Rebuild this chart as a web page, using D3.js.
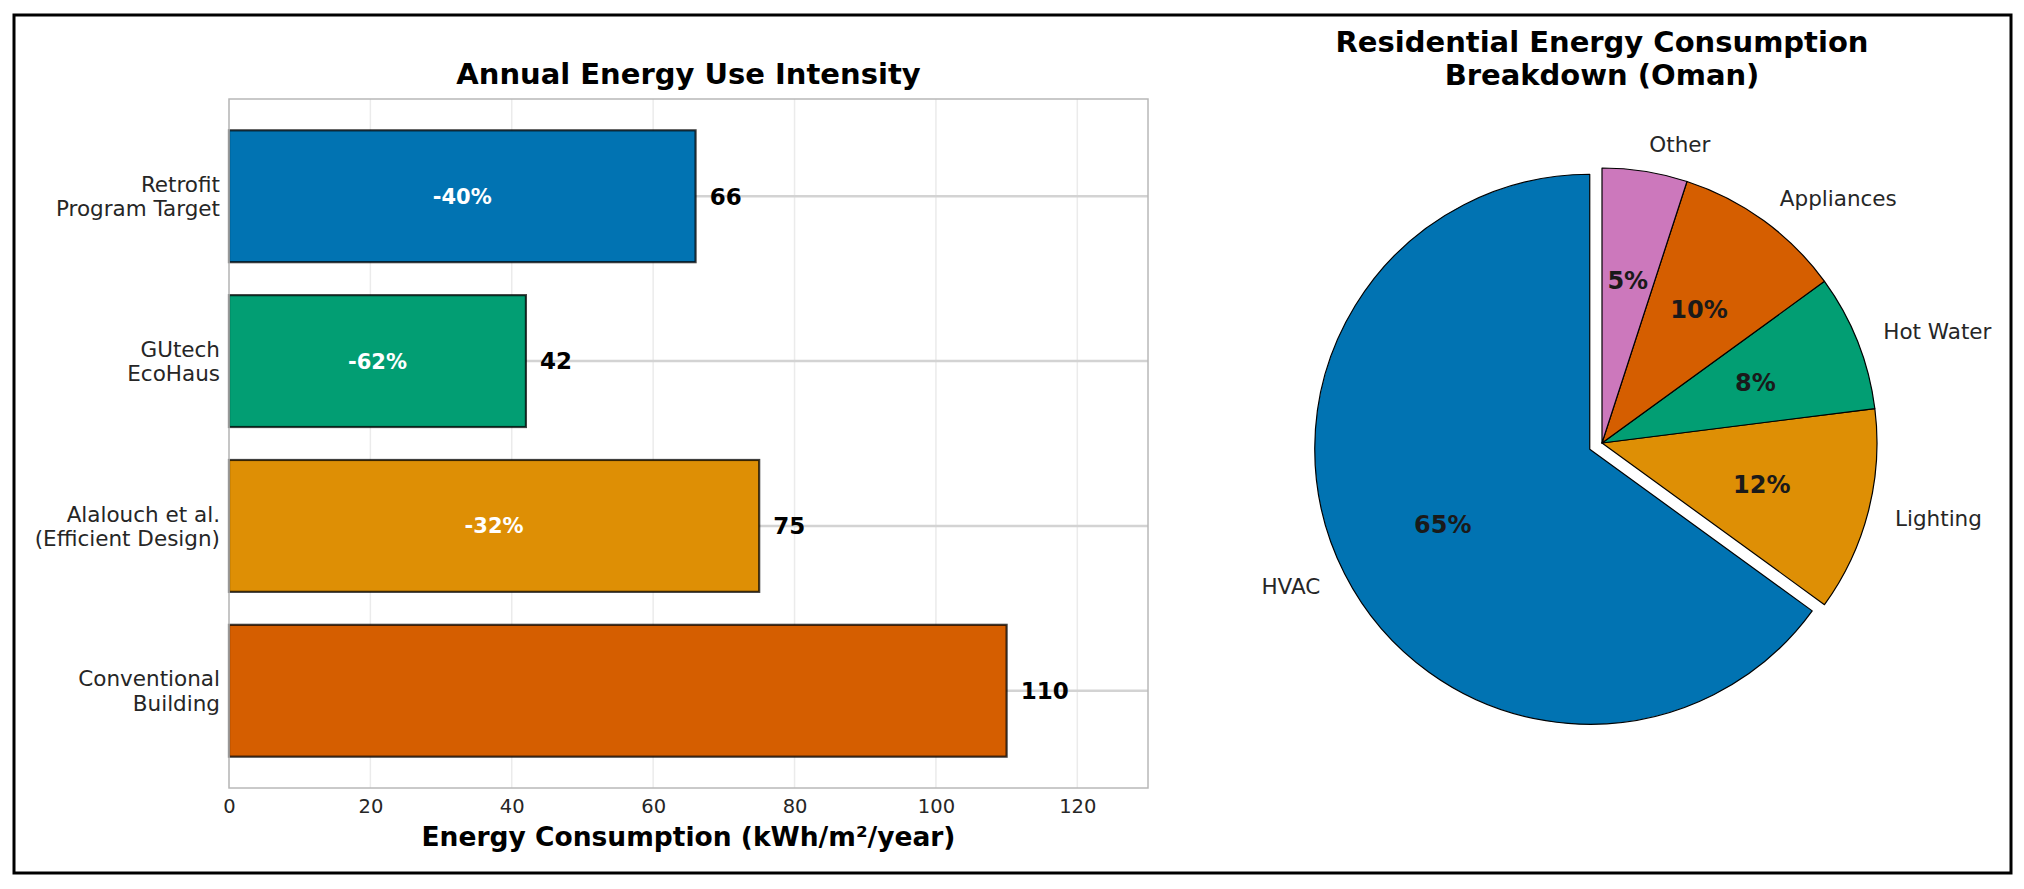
<!DOCTYPE html>
<html>
<head>
<meta charset="utf-8">
<script src="https://cdn.jsdelivr.net/npm/d3@7"></script>
<style>
  body { margin: 0; background: #fff; }
  svg { display: block; font-family: "DejaVu Sans", sans-serif; }
</style>
</head>
<body>
<svg id="chart" width="2024" height="889"></svg>
<script>
// bar chart data (top to bottom)
const buildings = ["Retrofit\nProgram Target", "GUtech\nEcoHaus", "Alalouch et al.\n(Efficient Design)", "Conventional\nBuilding"];
const eui = [66, 42, 75, 110];
const barColors = ["#0173b2", "#029e73", "#de8f05", "#d55e00"];
const xTicks = [0, 20, 40, 60, 80, 100, 120];
const baseline = 110; // conventional building

// pie data
const uses = ["HVAC", "Lighting", "Hot Water", "Appliances", "Other"];
const shares = [65, 12, 8, 10, 5];
const pieColors = ["#0173b2", "#de8f05", "#029e73", "#d55e00", "#cc78bc"];
const explode = [0.05, 0, 0, 0, 0];

const svg = d3.select("#chart");

// outer frame
svg.append("rect")
  .attr("x", 14).attr("y", 15)
  .attr("width", 1997).attr("height", 858)
  .attr("fill", "none").attr("stroke", "#000").attr("stroke-width", 3);

////////////////////////////
// left panel: bars

const plot = { left: 229, right: 1148, top: 99, bottom: 788 };

const x = d3.scaleLinear()
  .domain([0, 130])
  .range([plot.left, plot.right]);

const y = d3.scaleBand()
  .domain(buildings)
  .range([plot.top, plot.bottom])
  .paddingInner(0.2)
  .paddingOuter(0.19);

const g = svg.append("g");

// grid
g.append("g").selectAll("line")
  .data(xTicks)
  .join("line")
  .attr("x1", d => x(d)).attr("x2", d => x(d))
  .attr("y1", plot.top).attr("y2", plot.bottom)
  .attr("stroke", "#ebebeb").attr("stroke-width", 1.5);

g.append("g").selectAll("line")
  .data(buildings)
  .join("line")
  .attr("x1", plot.left).attr("x2", plot.right)
  .attr("y1", d => y(d) + y.bandwidth() / 2)
  .attr("y2", d => y(d) + y.bandwidth() / 2)
  .attr("stroke", "#d3d3d3").attr("stroke-width", 2.5);

// bars
g.append("g").selectAll("rect")
  .data(buildings)
  .join("rect")
  .attr("x", x(0))
  .attr("y", d => y(d))
  .attr("width", (d, i) => x(eui[i]) - x(0))
  .attr("height", y.bandwidth())
  .attr("fill", (d, i) => barColors[i])
  .attr("stroke", "#000").attr("stroke-opacity", 0.75).attr("stroke-width", 2.2);

// frame
g.append("rect")
  .attr("x", plot.left).attr("y", plot.top)
  .attr("width", plot.right - plot.left).attr("height", plot.bottom - plot.top)
  .attr("fill", "none").attr("stroke", "#b8b8b8").attr("stroke-width", 1.5);

// value labels
g.append("g").selectAll("text")
  .data(buildings)
  .join("text")
  .attr("x", (d, i) => x(eui[i] + 2))
  .attr("y", d => y(d) + y.bandwidth() / 2)
  .attr("dy", "0.36em")
  .attr("font-size", 23).attr("font-weight", "bold").attr("fill", "#000")
  .text((d, i) => eui[i]);

// reduction labels inside bars
g.append("g").selectAll("text")
  .data(buildings.filter((d, i) => eui[i] < baseline))
  .join("text")
  .attr("x", d => x(eui[buildings.indexOf(d)] / 2))
  .attr("y", d => y(d) + y.bandwidth() / 2)
  .attr("dy", "0.36em")
  .attr("text-anchor", "middle")
  .attr("font-size", 21).attr("font-weight", "bold").attr("fill", "#fff")
  .text(d => {
    var v = eui[buildings.indexOf(d)];
    return "-" + Math.round((baseline - v) / baseline * 100) + "%";
  });

// x axis
const xAxis = g.append("g")
  .attr("transform", `translate(0,${plot.bottom})`)
  .call(d3.axisBottom(x).tickValues(xTicks).tickSize(0).tickPadding(11));
xAxis.select(".domain").remove();
xAxis.selectAll("text")
  .attr("font-size", 19.5).attr("fill", "#262626")
  .attr("font-family", "DejaVu Sans");

// y axis with two-line labels
const yAxis = g.append("g")
  .attr("transform", `translate(${plot.left},0)`)
  .call(d3.axisLeft(y).tickSize(0).tickPadding(9));
yAxis.select(".domain").remove();
yAxis.selectAll("text")
  .attr("font-size", 21.5).attr("fill", "#262626")
  .attr("font-family", "DejaVu Sans")
  .attr("dy", null)
  .each(function (d) {
    var t = d3.select(this);
    var lines = d.split("\n");
    t.text(null);
    lines.forEach((ln, k) => {
      t.append("tspan")
        .attr("x", -9)
        .attr("dy", k === 0 ? (0.36 - 0.56 * (lines.length - 1)) + "em" : "1.12em")
        .text(ln);
    });
  });

// titles
g.append("text")
  .attr("x", (plot.left + plot.right) / 2).attr("y", 84)
  .attr("text-anchor", "middle")
  .attr("font-size", 29).attr("font-weight", "bold").attr("fill", "#000")
  .text("Annual Energy Use Intensity");

g.append("text")
  .attr("x", (plot.left + plot.right) / 2).attr("y", 846)
  .attr("text-anchor", "middle")
  .attr("font-size", 26.5).attr("font-weight", "bold").attr("fill", "#000")
  .text("Energy Consumption (kWh/m²/year)");

////////////////////////////
// right panel: pie

const cx = 1602, cy = 443, r = 275;

const pie = d3.pie()
  .sort(null)
  .startAngle(0)
  .endAngle(-2 * Math.PI);

const arcs = pie(shares);
const arc = d3.arc().innerRadius(0).outerRadius(r);

const pg = svg.append("g").attr("transform", `translate(${cx},${cy})`);

// offset of a wedge along its middle angle
function off(a, k) {
  var m = (a.startAngle + a.endAngle) / 2;
  return [Math.sin(m) * k, -Math.cos(m) * k];
}

const wedge = pg.selectAll("g.wedge")
  .data(arcs)
  .join("g")
  .attr("class", "wedge")
  .attr("transform", (a, i) => {
    var o = off(a, explode[i] * r);
    return `translate(${o[0]},${o[1]})`;
  });

wedge.append("path")
  .attr("d", arc)
  .attr("fill", (a, i) => pieColors[i])
  .attr("stroke", "#000").attr("stroke-width", 1.2)
  .attr("stroke-linejoin", "round");

// percent labels
wedge.append("text")
  .attr("x", a => off(a, 0.6 * r)[0])
  .attr("y", a => off(a, 0.6 * r)[1])
  .attr("dy", "0.36em")
  .attr("text-anchor", "middle")
  .attr("font-size", 24).attr("font-weight", "bold").attr("fill", "#1a1a1a")
  .text((a, i) => shares[i] + "%");

// category labels
wedge.append("text")
  .attr("x", a => off(a, 1.1 * r)[0])
  .attr("y", a => off(a, 1.1 * r)[1])
  .attr("dy", "0.36em")
  .attr("text-anchor", a => off(a, 1)[0] > 0 ? "start" : "end")
  .attr("font-size", 21.5).attr("fill", "#262626")
  .text((a, i) => uses[i]);

// pie title
const pt = svg.append("text")
  .attr("text-anchor", "middle")
  .attr("font-size", 29).attr("font-weight", "bold").attr("fill", "#000");
pt.append("tspan").attr("x", cx).attr("y", 52).text("Residential Energy Consumption");
pt.append("tspan").attr("x", cx).attr("y", 85).text("Breakdown (Oman)");
</script>
</body>
</html>
